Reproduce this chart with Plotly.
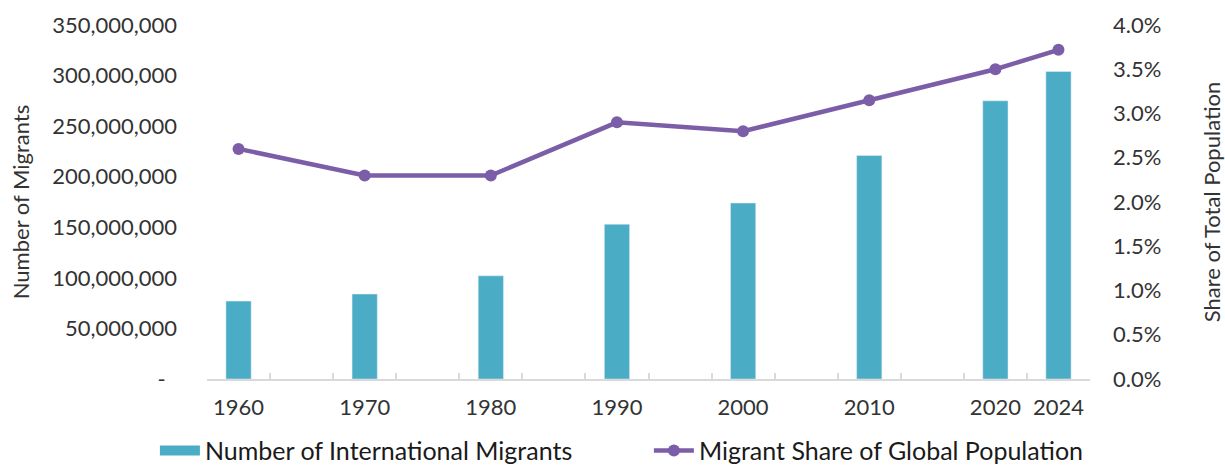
import plotly.graph_objects as go

# Category slots along the x axis; empty slots keep the decade spacing
slots = ["1960", " ", "1970", "  ", "1980", "   ", "1990", "    ",
         "2000", "     ", "2010", "      ", "2020", "2024"]
years = ["1960", "1970", "1980", "1990", "2000", "2010", "2020", "2024"]
migrants = [77_000_000, 84_000_000, 102_000_000, 153_000_000,
            174_000_000, 221_000_000, 275_000_000, 304_000_000]
share_pct = [2.6, 2.3, 2.3, 2.9, 2.8, 3.15, 3.5, 3.72]

left_ticks = [0, 50_000_000, 100_000_000, 150_000_000, 200_000_000,
              250_000_000, 300_000_000, 350_000_000]
left_text = ["-\u00a0\u00a0"] + [f"{v:,}" for v in left_ticks[1:]]
right_ticks = [0, 0.5, 1.0, 1.5, 2.0, 2.5, 3.0, 3.5, 4.0]
right_text = [f"{v:.1f}%" for v in right_ticks]

BAR = "#4BACC6"
LINE = "#7B5EA7"
TXT = "#333333"
FONT = "Lato, 'Open Sans', sans-serif"
TICK_SIZE = 22

fig = go.Figure()
fig.add_trace(go.Bar(
    x=years, y=migrants, marker_color=BAR, width=0.4,
    name="Number of International Migrants", showlegend=False,
))
# legend entry drawn as a wide band for the bar series
fig.add_trace(go.Scatter(
    x=[None], y=[None], mode="lines", line=dict(color=BAR, width=11),
    name="Number of International Migrants",
))
fig.add_trace(go.Scatter(
    x=years, y=share_pct, yaxis="y2", mode="lines+markers",
    line=dict(color=LINE, width=4.5), marker=dict(color=LINE, size=12),
    name="Migrant Share of Global Population",
))

fig.update_layout(
    width=1225, height=466,
    margin=dict(l=207, r=135, t=25, b=87, autoexpand=False),
    paper_bgcolor="white", plot_bgcolor="white",
    font=dict(family=FONT, size=TICK_SIZE, color=TXT),
    xaxis=dict(
        type="category", categoryorder="array", categoryarray=slots,
        range=[-0.5, 13.5], showgrid=False, zeroline=False,
        showline=True, linecolor="#d9d9d9", linewidth=1.5,
        ticks="inside", tickson="boundaries", ticklen=6,
        tickcolor="#d9d9d9", tickwidth=1.5,
        tickfont=dict(size=TICK_SIZE, color=TXT), ticklabelstandoff=8,
    ),
    yaxis=dict(
        range=[0, 350_000_000], tickvals=left_ticks, ticktext=left_text,
        showgrid=False, zeroline=False, showline=False,
        tickfont=dict(size=TICK_SIZE, color=TXT), ticklabelstandoff=29,
        title=dict(text="Number of Migrants",
                   font=dict(size=TICK_SIZE, color=TXT), standoff=16),
    ),
    yaxis2=dict(
        overlaying="y", side="right", range=[0, 4.0],
        tickvals=right_ticks, ticktext=right_text,
        showgrid=False, zeroline=False, showline=False,
        tickfont=dict(size=TICK_SIZE, color=TXT), ticklabelstandoff=22,
        title=dict(text="Share of Total Population",
                   font=dict(size=TICK_SIZE, color=TXT), standoff=50),
    ),
    legend=dict(
        orientation="h", xref="paper", yref="paper",
        x=-0.059, xanchor="left", y=-0.138, yanchor="top",
        font=dict(size=25, color="#1a1a1a"),
        entrywidth=439, entrywidthmode="pixels",
        itemwidth=40, tracegroupgap=0, bgcolor="rgba(0,0,0,0)",
    ),
    showlegend=True,
)

fig.write_html("out.html")
